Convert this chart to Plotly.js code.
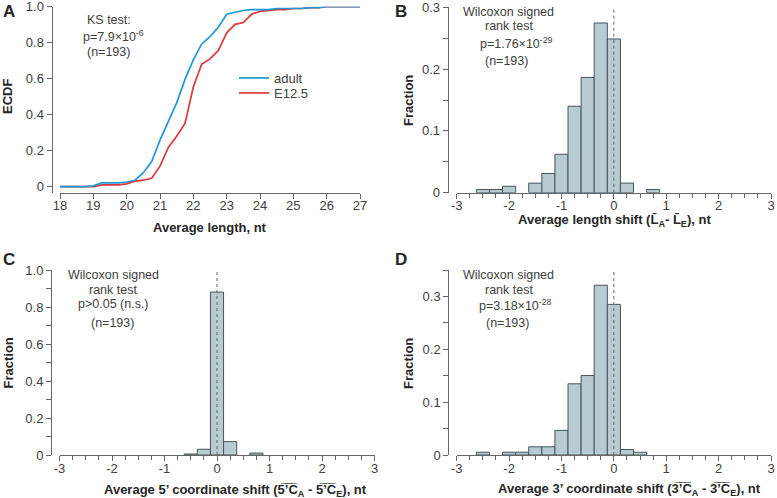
<!DOCTYPE html>
<html>
<head>
<meta charset="utf-8">
<script src="https://cdn.plot.ly/plotly-3.0.1.min.js"></script>
<style>html,body{margin:0;padding:0;background:#fff}#chart{width:777px;height:498px}</style>
</head>
<body>
<div id="chart"></div>
<script>
// ---------- DATA ----------
// Panel A: ECDF of average length
const lengthNt = [18,18.25,18.5,18.75,19,19.25,19.5,19.75,20,20.25,20.5,20.75,21,21.25,21.5,21.75,22,22.25,22.5,22.75,23,23.25,23.5,23.75,24,24.25,24.5,24.75,25,25.25,25.5,25.75,26,26.25,26.5,26.75,27];
const ecdfAdult = [0,0,0,0,0.005,0.021,0.021,0.021,0.026,0.036,0.078,0.14,0.259,0.363,0.466,0.596,0.705,0.793,0.834,0.886,0.958,0.969,0.979,0.984,0.984,0.984,0.99,0.99,0.99,0.99,0.995,0.995,1,1,1,1,1];
const ecdfE125 = [0,0,0,0,0,0.01,0.01,0.01,0.016,0.031,0.036,0.047,0.114,0.218,0.28,0.352,0.554,0.68,0.71,0.756,0.855,0.902,0.912,0.959,0.974,0.979,0.984,0.984,0.99,0.99,0.995,0.995,1,1,1,1,1];
const seriesNames = ["adult", "E12.5"];

// Panel B: average length shift histogram
const binsB = [-2.5,-2.25,-2,-1.5,-1.25,-1,-0.75,-0.5,-0.25,0,0.25,0.75];
const fracB = [0.0052,0.0052,0.0104,0.0155,0.0311,0.0622,0.1399,0.1865,0.2746,0.2487,0.0155,0.0052];

// Panel C: average 5' coordinate shift histogram
const binsC = [-0.5,-0.25,0,0.25,0.75];
const fracC = [0.0052,0.0311,0.8808,0.0725,0.0104];

// Panel D: average 3' coordinate shift histogram
const binsD = [-2.5,-2,-1.75,-1.5,-1.25,-1,-0.75,-0.5,-0.25,0,0.25,0.5];
const fracD = [0.0052,0.0052,0.0052,0.0155,0.0155,0.0466,0.1347,0.1503,0.3212,0.285,0.0104,0.0052];

// Tick labels
const ticksA_x = [18,19,20,21,22,23,24,25,26,27];
const ticksA_xText = ["18","19","20","21","22","23","24","25","26","27"];
const ticksA_y = [0,0.2,0.4,0.6,0.8,1.0];
const ticksA_yText = ["0","0.2","0.4","0.6","0.8","1.0"];
const ticksShift = [-3,-2,-1,0,1,2,3];
const ticksShiftText = ["-3","-2","-1","0","1","2","3"];
const ticksFrac03 = [0,0.1,0.2,0.3];
const ticksFrac03Text = ["0","0.1","0.2","0.3"];
const ticksFrac1 = [0,0.2,0.4,0.6,0.8,1.0];
const ticksFrac1Text = ["0","0.2","0.4","0.6","0.8","1.0"];

// ---------- STYLE ----------
const W = 777, H = 498;
const px = v => v / W;
const py = v => 1 - v / H;
const FONT = "Liberation Sans, Arial, Helvetica, sans-serif";
const AX = "#666";
const TXT = "#404040";
const BAR_FILL = "#b7cbd1";
const BAR_LINE = "#46555a";

function axis(opts) {
  return Object.assign({
    showline: true, linecolor: AX, linewidth: 1,
    ticks: "outside", ticklen: 5, tickcolor: AX, tickwidth: 1,
    tickmode: "array", ticklabeloverflow: "allow",
    tickfont: {family: FONT, size: 13, color: TXT},
    showgrid: false, zeroline: false, fixedrange: true
  }, opts);
}
const xAxis = o => axis(Object.assign({ticklabelstandoff: -4}, o));
const yAxis = o => axis(Object.assign({ticklabelstandoff: 0}, o));

const barTrace = (x, y, xa, ya) => ({
  type: "bar", x: x, y: y, xaxis: xa, yaxis: ya,
  marker: {color: BAR_FILL, line: {color: BAR_LINE, width: 1}},
  showlegend: false, hoverinfo: "skip"
});

const data = [
  {type: "scatter", mode: "lines", x: lengthNt, y: ecdfE125, name: seriesNames[1],
   line: {color: "#d8393a", width: 1.7}, xaxis: "x", yaxis: "y", legend: "legend2", hoverinfo: "skip"},
  {type: "scatter", mode: "lines", x: lengthNt, y: ecdfAdult, name: seriesNames[0],
   line: {color: "#1f98d3", width: 1.7}, xaxis: "x", yaxis: "y", legend: "legend", hoverinfo: "skip"},
  barTrace(binsB, fracB, "x2", "y2"),
  barTrace(binsC, fracC, "x3", "y3"),
  barTrace(binsD, fracD, "x4", "y4")
];

const minorX = {dtick: 0.25, tick0: 0, ticks: "outside", ticklen: 4, tickcolor: AX, tickwidth: 1};

const ann = [];
function t(text, x, y, size, bold, angle) {
  ann.push({text: text, x: px(x), y: py(y), xref: "paper", yref: "paper",
    xanchor: "center", yanchor: "middle", showarrow: false, textangle: angle || 0,
    font: {family: FONT, size: size, color: bold ? "#262626" : TXT, weight: bold ? "bold" : "normal"}});
}
// panel letters
t("A", 9, 12, 17, true); t("B", 401, 11, 17, true); t("C", 9, 259, 17, true); t("D", 401, 259, 17, true);
// panel A texts
t("KS test:", 109, 20, 12.5); t("p=7.9×10<sup>-6</sup>", 113, 36, 12.5); t("(n=193)", 108.5, 52.5, 12.5);
// panel B texts
t("Wilcoxon signed", 508.7, 12.5, 12.5); t("rank test", 509, 26.5, 12.5);
t("p=1.76×10<sup>-29</sup>", 516, 43, 12.5); t("(n=193)", 506.7, 61.5, 12.5);
// panel C texts
t("Wilcoxon signed", 113, 275, 12.5); t("rank test", 113, 289.5, 12.5);
t("p>0.05 (n.s.)", 113, 303.5, 12.5); t("(n=193)", 112.8, 322.5, 12.5);
// panel D texts
t("Wilcoxon signed", 508.7, 275, 12.5); t("rank test", 509, 289.5, 12.5);
t("p=3.18×10<sup>-28</sup>", 515, 305, 12.5); t("(n=193)", 507.7, 322.5, 12.5);
// axis titles
t("Average length, nt", 210, 228, 13, true);
t("ECDF", 8, 97, 13, true, -90);
t("Average length shift (L\u0304<sub>A</sub>- L\u0304<sub>E</sub>), nt", 614, 221, 13, true);
t("Fraction", 408, 100, 13, true, -90);
t("Average 5\u2019 coordinate shift (5\u0305\u2019\u0305C\u0305<sub>A</sub> - 5\u0305\u2019\u0305C\u0305<sub>E</sub>), nt", 235, 490, 13, true);
t("Fraction", 7.5, 363, 13, true, -90);
t("Average 3\u2019 coordinate shift (3\u0305\u2019\u0305C\u0305<sub>A</sub> - 3\u0305\u2019\u0305C\u0305<sub>E</sub>), nt", 629.7, 489, 13, true);
t("Fraction", 408, 363, 13, true, -90);

const dotLine = (xa, ya) => ({type: "line", xref: xa, yref: ya + " domain", x0: 0, x1: 0, y0: 0, y1: 1,
  line: {color: "#666", width: 1, dash: "dot"}, layer: "above"});

const layout = {
  width: W, height: H, margin: {l: 0, r: 0, t: 0, b: 0},
  paper_bgcolor: "#fff", plot_bgcolor: "rgba(0,0,0,0)",
  font: {family: FONT, size: 12, color: TXT},
  bargap: 0,
  // Panel A: x axis sits 6 px below the y=0 level, as in the reference
  xaxis: xAxis({domain: [px(60), px(360)], range: [18, 27], anchor: "y",
    tickvals: ticksA_x, ticktext: ticksA_xText}),
  yaxis: yAxis({domain: [py(192.7), py(6.7)], range: [-6 / 180, 1], anchor: "free", position: px(51.5),
    tickvals: ticksA_y, ticktext: ticksA_yText}),
  // Panel B
  xaxis2: xAxis({domain: [px(456.7), px(771)], range: [-3, 3], anchor: "y2",
    tickvals: ticksShift, ticktext: ticksShiftText, minor: minorX}),
  yaxis2: yAxis({domain: [py(192.7), py(7.3)], range: [0, 0.3], anchor: "free", position: px(447.7),
    tickvals: ticksFrac03, ticktext: ticksFrac03Text,
    minor: {dtick: 0.05, tick0: 0, ticks: "outside", ticklen: 5, tickcolor: AX, tickwidth: 1}}),
  // Panel C
  xaxis3: xAxis({domain: [px(59.5), px(374.5)], range: [-3, 3], anchor: "y3",
    tickvals: ticksShift, ticktext: ticksShiftText, minor: minorX}),
  yaxis3: yAxis({domain: [py(455), py(270)], range: [0, 1], anchor: "free", position: px(51),
    tickvals: ticksFrac1, ticktext: ticksFrac1Text,
    minor: {dtick: 0.1, tick0: 0, ticks: "outside", ticklen: 5, tickcolor: AX, tickwidth: 1}}),
  // Panel D
  xaxis4: xAxis({domain: [px(456.7), px(771)], range: [-3, 3], anchor: "y4",
    tickvals: ticksShift, ticktext: ticksShiftText, minor: minorX}),
  yaxis4: yAxis({domain: [py(455), py(270)], range: [0, 0.35], anchor: "free", position: px(448.3),
    tickvals: ticksFrac03, ticktext: ticksFrac03Text,
    minor: {dtick: 0.05, tick0: 0, ticks: "outside", ticklen: 5, tickcolor: AX, tickwidth: 1}}),
  legend: {x: px(234), y: py(78), xanchor: "left", yanchor: "middle", bgcolor: "rgba(0,0,0,0)",
    font: {family: FONT, size: 13, color: TXT}},
  legend2: {x: px(234), y: py(93), xanchor: "left", yanchor: "middle", bgcolor: "rgba(0,0,0,0)",
    font: {family: FONT, size: 13, color: TXT}},
  annotations: ann,
  shapes: [dotLine("x2", "y2"), dotLine("x3", "y3"), dotLine("x4", "y4")]
};

Plotly.newPlot("chart", data, layout, {displayModeBar: false, staticPlot: true});
</script>
</body>
</html>
